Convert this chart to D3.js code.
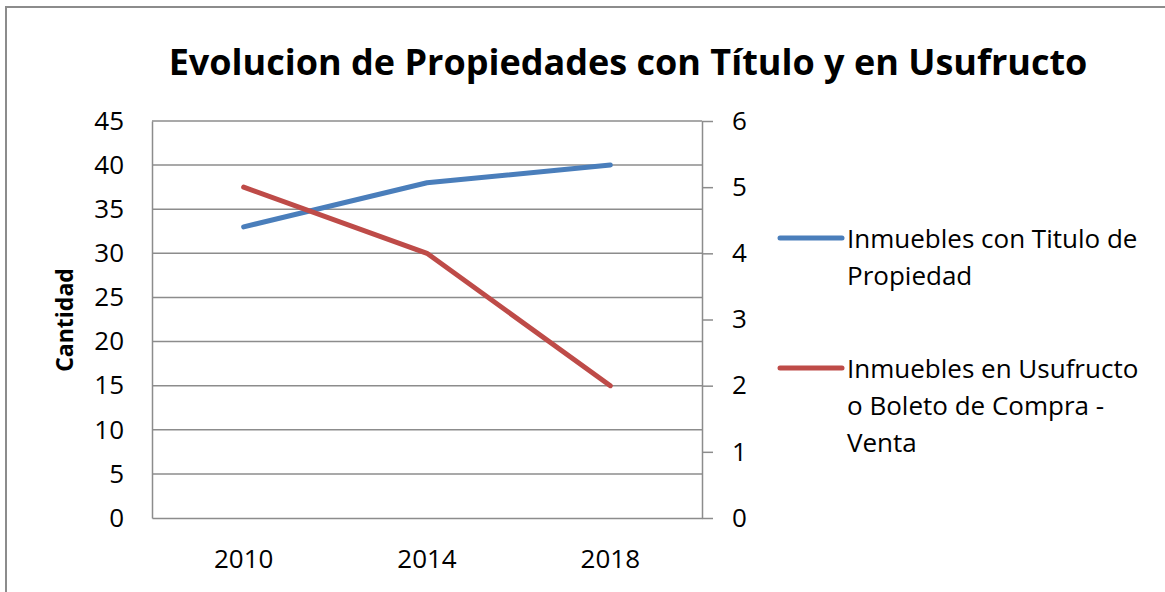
<!DOCTYPE html>
<html>
<head>
<meta charset="utf-8">
<script src="https://cdn.jsdelivr.net/npm/d3@7"></script>
<style>
  body { margin: 0; background: #fff; }
  svg { display: block; font-family: "Open Sans", sans-serif; }
</style>
</head>
<body>
<div id="chart"></div>
<script>
// Data
const years = ["2010", "2014", "2018"];
const conTitulo = [33, 38, 40];        // left axis
const usufructo = [5, 4, 2];           // right axis
const leftTicks = [0, 5, 10, 15, 20, 25, 30, 35, 40, 45];
const rightTicks = [0, 1, 2, 3, 4, 5, 6];
const seriesNames = [
  ["Inmuebles con Titulo de", "Propiedad"],
  ["Inmuebles en Usufructo", "o Boleto de Compra -", "Venta"]
];
const title = "Evolucion de Propiedades con Título y en Usufructo";

const W = 1165, H = 592;
const margin = { top: 121, right: 463, bottom: 74, left: 152 };
const width = W - margin.left - margin.right,
      height = H - margin.top - margin.bottom;

const svg = d3.select("#chart").append("svg")
    .attr("width", W)
    .attr("height", H);

// chart border
svg.append("rect")
    .attr("x", 6).attr("y", 7)
    .attr("width", 1300).attr("height", 700)
    .attr("fill", "none")
    .attr("stroke", "#8c8c8c")
    .attr("stroke-width", 2);

// title
svg.append("text")
    .attr("x", 628).attr("y", 75)
    .attr("text-anchor", "middle")
    .style("font-size", "36px")
    .style("font-weight", "bold")
    .attr("fill", "#000")
    .text(title);

const g = svg.append("g")
    .attr("transform", `translate(${margin.left},${margin.top})`);

const x = d3.scaleBand().domain(years).range([0, width]);
const yL = d3.scaleLinear().domain([0, 45]).range([height, 0]);
const yR = d3.scaleLinear().domain([0, 6]).range([height, 0]);

// gridlines
g.append("g")
  .selectAll("line")
  .data(leftTicks.slice(1))
  .enter().append("line")
    .attr("x1", 0).attr("x2", width)
    .attr("y1", d => yL(d)).attr("y2", d => yL(d))
    .attr("stroke", "#8c8c8c")
    .attr("stroke-width", 1.5);

function styleAxis(ax) {
  ax.attr("font-family", null).attr("font-size", null);
  ax.select(".domain").attr("stroke", "#8c8c8c").attr("stroke-width", 1.5);
  ax.selectAll(".tick line").attr("stroke", "#8c8c8c").attr("stroke-width", 1.5);
  ax.selectAll("text").style("font-size", "26px").attr("fill", "#000");
}

// left axis
const axL = g.append("g")
    .call(d3.axisLeft(yL).tickValues(leftTicks).tickSize(0).tickPadding(28));
styleAxis(axL);

// right axis
const axR = g.append("g")
    .attr("transform", `translate(${width},0)`)
    .call(d3.axisRight(yR).tickValues(rightTicks).tickFormat(d3.format("d"))
      .tickSize(11).tickSizeOuter(0).tickPadding(19));
styleAxis(axR);

// bottom axis
const axB = g.append("g")
    .attr("transform", `translate(0,${height})`)
    .call(d3.axisBottom(x).tickSize(0).tickPadding(32));
styleAxis(axB);

// y axis title
svg.append("text")
    .attr("transform", "translate(73,320) rotate(-90)")
    .attr("text-anchor", "middle")
    .style("font-size", "23px")
    .style("font-weight", "bold")
    .text("Cantidad");

// lines
const colors = ["#4a7ebb", "#be4b48"];
const lineL = d3.line().x((d, i) => x(years[i]) + x.bandwidth() / 2).y(d => yL(d));
const lineR = d3.line().x((d, i) => x(years[i]) + x.bandwidth() / 2).y(d => yR(d));

g.append("path").datum(conTitulo)
    .attr("d", lineL)
    .attr("fill", "none").attr("stroke", colors[0])
    .attr("stroke-width", 5).attr("stroke-linecap", "round").attr("stroke-linejoin", "round");

g.append("path").datum(usufructo)
    .attr("d", lineR)
    .attr("fill", "none").attr("stroke", colors[1])
    .attr("stroke-width", 5).attr("stroke-linecap", "round").attr("stroke-linejoin", "round");

// legend
const legendTop = [238, 368];
const legend = svg.append("g");
seriesNames.forEach((lines, i) => {
  legend.append("line")
      .attr("x1", 780).attr("x2", 842)
      .attr("y1", legendTop[i]).attr("y2", legendTop[i])
      .attr("stroke", colors[i]).attr("stroke-width", 5).attr("stroke-linecap", "round");
  const t = legend.append("text")
      .attr("x", 847).attr("y", legendTop[i] + 10)
      .style("font-size", "26px")
      .attr("fill", "#000");
  lines.forEach((s, j) => {
    t.append("tspan").attr("x", 847).attr("dy", j === 0 ? 0 : 37).text(s);
  });
});
</script>
</body>
</html>
